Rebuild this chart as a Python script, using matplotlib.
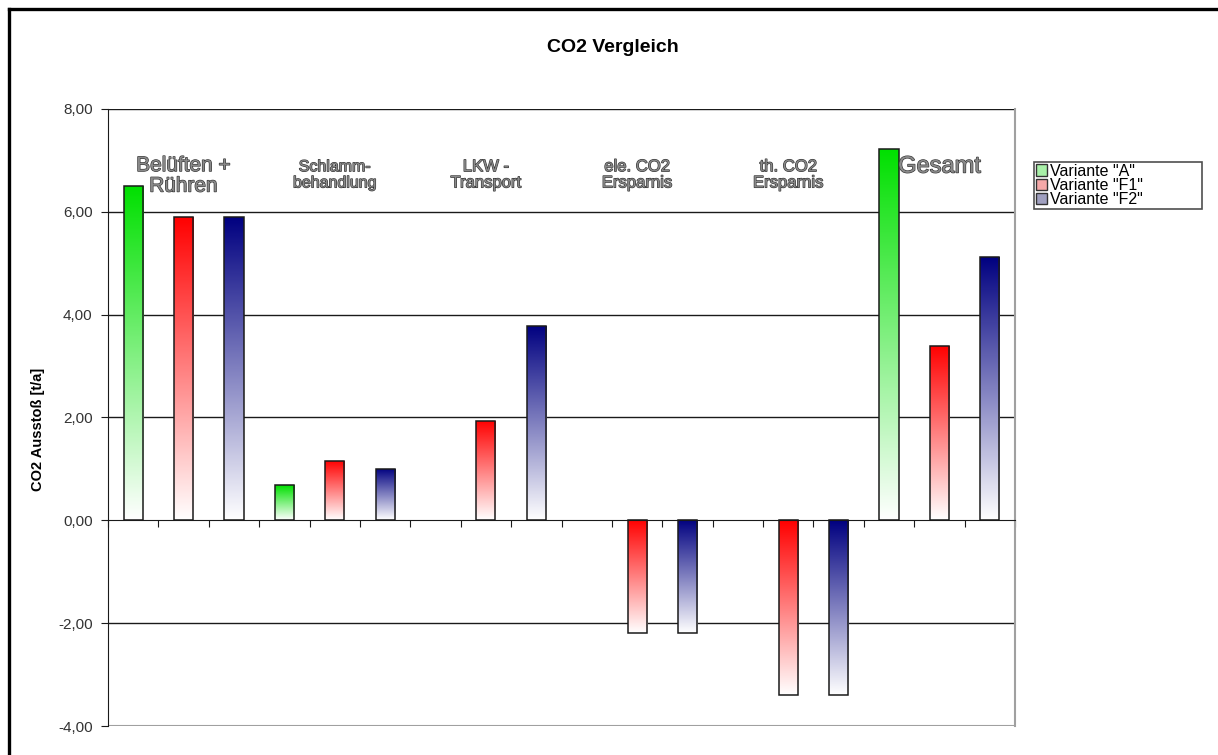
import numpy as np
import matplotlib
matplotlib.use("Agg")
import matplotlib.pyplot as plt
import matplotlib.patheffects as pe
from matplotlib.patches import Rectangle, Patch
from matplotlib.lines import Line2D
from matplotlib.colors import to_rgb

plt.rcParams["font.family"] = ["Liberation Sans", "DejaVu Sans"]

groups = ["Belüften +\nRühren", "Schlamm-\nbehandlung", "LKW -\nTransport",
          "ele. CO2\nErsparnis", "th. CO2\nErsparnis", "Gesamt"]
series_names = ['Variante "A"', 'Variante "F1"', 'Variante "F2"']
variante_a = [6.50, 0.68, 0.0, 0.0, 0.0, 7.22]
variante_f1 = [5.90, 1.15, 1.93, -2.20, -3.40, 3.40]
variante_f2 = [5.90, 1.00, 3.78, -2.20, -3.40, 5.12]
yticks = [-4, -2, 0, 2, 4, 6, 8]
ytick_labels = ["-4,00", "-2,00", "0,00", "2,00", "4,00", "6,00", "8,00"]

# styles
top_colors = ["#00e000", "#ff0000", "#000080"]
legend_colors = ["#a8f0a8", "#f4a8a8", "#a0a0c0"]
label_sizes = [15, 11.5, 12, 12, 12, 17]
label_y = [6.70, 6.72, 6.72, 6.72, 6.72, 6.88]
bar_w = 0.38

fig = plt.figure(figsize=(12.18, 7.55), dpi=100)
ax = fig.add_axes([108 / 1218, 1 - 726 / 755, (1015 - 108) / 1218, (726 - 109) / 755])

ax.set_xlim(-0.5, 17.5)
ax.set_ylim(-4, 8)


def gradient_bar(ax, x, h, color):
    rect = Rectangle((x - bar_w / 2, min(0, h)), bar_w, abs(h),
                     facecolor="none", edgecolor="#1a1a1a", lw=1.1, zorder=4)
    ax.add_patch(rect)
    c = np.array(to_rgb(color))
    t = np.linspace(0, 1, 256)[:, None]
    img = (c[None, :] * (1 - t) + np.ones(3)[None, :] * t)[:, None, :]
    im = ax.imshow(img, extent=[x - bar_w / 2, x + bar_w / 2, min(0, h), max(0, h)],
                   origin="upper", aspect="auto", zorder=3, interpolation="bilinear")
    im.set_clip_path(rect)


for s, vals in enumerate([variante_a, variante_f1, variante_f2]):
    for g, v in enumerate(vals):
        if v == 0:
            continue
        gradient_bar(ax, 3 * g + s, v, top_colors[s])

ax.set_xlim(-0.5, 17.5)
ax.set_ylim(-4, 8)

# gridlines
for y in [-2, 2, 4, 6, 8]:
    ax.axhline(y, color="#1a1a1a", lw=1.0, zorder=1)
ax.axhline(-4, color="#a0a0a0", lw=1.5, zorder=1)

ax.spines["top"].set_visible(False)
ax.spines["bottom"].set_position(("data", 0))
ax.spines["bottom"].set_color("#1a1a1a")
ax.spines["bottom"].set_zorder(5)
ax.spines["left"].set_color("#1a1a1a")
ax.spines["right"].set_color("#a0a0a0")
ax.spines["right"].set_linewidth(1.5)

ax.set_xticks(np.arange(-0.5, 18, 1))
ax.set_xticklabels([])
ax.tick_params(axis="x", direction="out", length=5, color="#1a1a1a")
ax.set_yticks(yticks)
ax.set_yticklabels(ytick_labels, fontsize=11, color="#333333")
ax.tick_params(axis="y", direction="out", length=5, color="#1a1a1a", pad=6)

for g, name in enumerate(groups):
    ax.text(3 * g + 1, label_y[g], name, ha="center", va="center",
            fontsize=label_sizes[g], color="#8a8a8a", linespacing=1.1,
            path_effects=[pe.withStroke(linewidth=0.9, foreground="#333333")],
            zorder=6)

ax.set_ylabel("CO2 Ausstoß [t/a]", fontsize=10.5, fontweight="bold")
ax.yaxis.set_label_coords(-0.07, 0.48)

fig.text(613 / 1218, 1 - 47 / 755, "CO2 Vergleich", ha="center", va="center",
         fontsize=14, fontweight="bold")

handles = [Patch(facecolor=legend_colors[i], edgecolor="#333333", lw=1)
           for i in range(3)]
leg = ax.legend(handles, series_names, loc="upper left", mode="expand",
                bbox_to_anchor=(1034 / 1218, 1 - 208 / 755, 168 / 1218, 46 / 755),
                bbox_transform=fig.transFigure, fontsize=11.5,
                frameon=True, fancybox=False, handlelength=0.7, handleheight=0.7,
                handletextpad=0.2, labelspacing=-0.05, borderpad=0.1,
                borderaxespad=0)
leg.get_frame().set_edgecolor("#222222")
leg.get_frame().set_linewidth(1.2)

# outer frame (left and top edges)
fig.add_artist(Line2D([9 / 1218, 9 / 1218], [0, 1 - 9 / 755], transform=fig.transFigure,
                      color="black", lw=2.4))
fig.add_artist(Line2D([9 / 1218, 1], [1 - 9 / 755, 1 - 9 / 755], transform=fig.transFigure,
                      color="black", lw=2.4))

fig.savefig("out.png", dpi=100)
